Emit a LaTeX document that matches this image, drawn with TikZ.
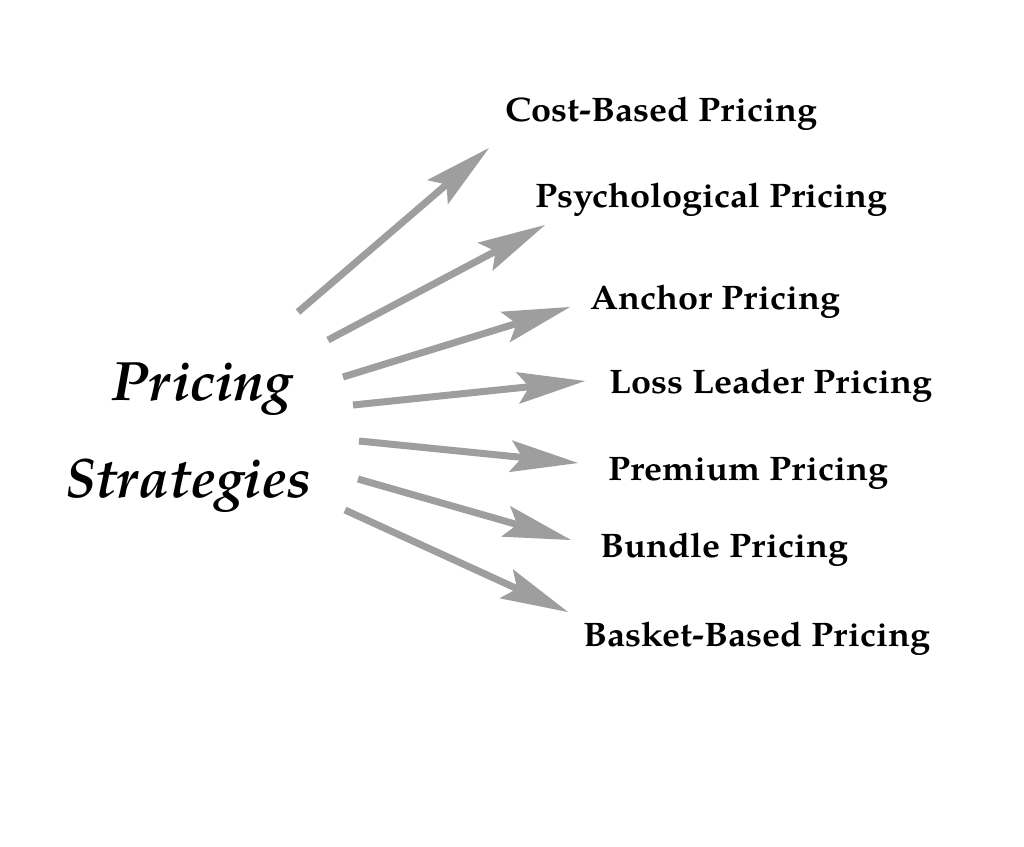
\documentclass[tikz,border=0pt]{standalone}
\usepackage{fontspec}
\setmainfont{TeX Gyre Pagella}
\newfontfamily\labelfont[FakeStretch=1.06]{TeX Gyre Pagella}
\usetikzlibrary{arrows.meta}
\definecolor{arrowgray}{RGB}{158,158,158}
\tikzset{
  label/.style={anchor=base west,inner sep=0pt,font=\labelfont\fontsize{34}{34}\selectfont\bfseries},
  title/.style={anchor=base west,inner sep=0pt,font=\fontsize{55.5}{55.5}\selectfont\bfseries\itshape},
  conn/.style={draw=arrowgray,line width=7pt,
    -{Stealth[length=68pt,width=32pt,inset=12pt,line width=0pt]}}
}
\begin{document}
\begin{tikzpicture}[x=1pt,y=-1pt]
\useasboundingbox[fill=white] (0,0) rectangle (1024,846);
% title
\node[title] (p1) at (111,400) {Pricing};
\node[title] (p2) at (65,497) {Strategies};
% labels
\node[label] (l1) at (505,121) {Cost-Based Pricing};
\node[label] (l2) at (535,207) {Psychological Pricing};
\node[label] (l3) at (590,309) {Anchor Pricing};
\node[label] (l4) at (609,393) {Loss Leader Pricing};
\node[label] (l5) at (608,480) {Premium Pricing};
\node[label] (l6) at (600,557) {Bundle Pricing};
\node[label] (l7) at (583,646) {Basket-Based Pricing};
% arrow ends
\coordinate (s1) at (298,312); \coordinate (t1) at (489,148);
\coordinate (s2) at (328,340); \coordinate (t2) at (545,225);
\coordinate (s3) at (343,377); \coordinate (t3) at (570,307);
\coordinate (s4) at (353,405); \coordinate (t4) at (585,381);
\coordinate (s5) at (359,441); \coordinate (t5) at (578,463);
\coordinate (s6) at (358,479); \coordinate (t6) at (571,540);
\coordinate (s7) at (345,510); \coordinate (t7) at (568,612);
\foreach \i in {1,...,7} \draw[conn] (s\i) -- (t\i);
\end{tikzpicture}
\end{document}
